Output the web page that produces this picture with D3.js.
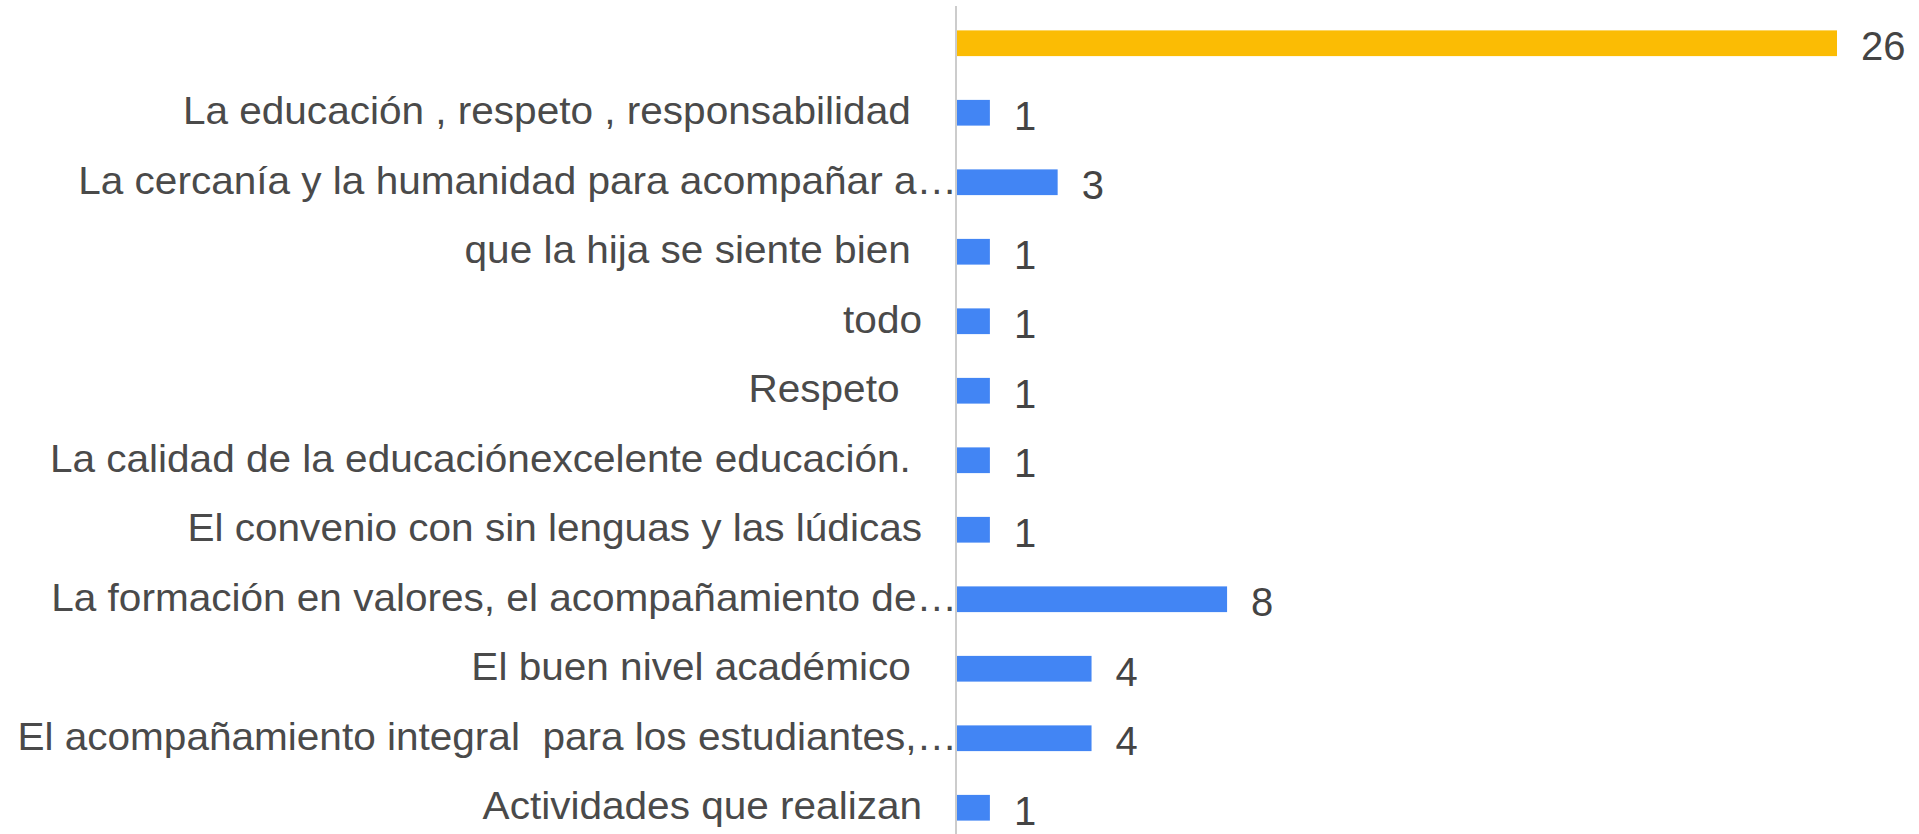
<!DOCTYPE html>
<html>
<head>
<meta charset="utf-8">
<script src="https://cdn.jsdelivr.net/npm/d3@7"></script>
<style>
  html, body { margin: 0; padding: 0; background: #fff; overflow: hidden; }
  svg { display: block; }
  text { font-family: "Liberation Sans", Arial, sans-serif; white-space: pre; }
</style>
</head>
<body>
<svg id="chart" width="1919" height="834"></svg>
<script>
// Answers (the first one is the blank answer), as shown top to bottom.
const categories = [
  '',
  'La educación , respeto , responsabilidad ',
  'La cercanía y la humanidad para acompañar a…',
  'que la hija se siente bien ',
  'todo',
  'Respeto  ',
  'La calidad de la educaciónexcelente educación. ',
  'El convenio con sin lenguas y las lúdicas',
  'La formación en valores, el acompañamiento de…',
  'El buen nivel académico ',
  'El acompañamiento integral  para los estudiantes,…',
  'Actividades que realizan'
];
const counts = [26, 1, 3, 1, 1, 1, 1, 1, 8, 4, 4, 1];
const barColors = ['#fbbc04', '#4285f4', '#4285f4', '#4285f4', '#4285f4', '#4285f4',
  '#4285f4', '#4285f4', '#4285f4', '#4285f4', '#4285f4', '#4285f4'];

const width = 1919, height = 834;
const axisX = 956;

const svg = d3.select('#chart');

const x = d3.scaleLinear()
  .domain([0, 26])
  .range([axisX, 1837]);

// The chart is cropped, so the band range runs past the bottom edge.
const y = d3.scaleBand()
  .domain(d3.range(categories.length))
  .range([8.5, 842.5])
  .paddingInner(0.63)
  .paddingOuter(0.315);

// Bars
svg.append('g')
  .selectAll('rect')
  .data(counts)
  .enter()
  .append('rect')
  .attr('x', x(0) + 1)
  .attr('y', (d, i) => y(i))
  .attr('width', d => x(d) - x(0) - 1)
  .attr('height', y.bandwidth())
  .attr('fill', (d, i) => barColors[i]);

// Value labels
svg.append('g')
  .selectAll('text')
  .data(counts)
  .enter()
  .append('text')
  .attr('x', d => x(d) + 24)
  .attr('y', (d, i) => y(i) + y.bandwidth() / 2)
  .attr('dy', '0.42em')
  .attr('font-size', 40)
  .attr('fill', '#444')
  .text(d => d);

// Category labels; truncated ones run up to the axis line.
// The source font is a little wider than Liberation Sans, hence the stretch.
svg.append('g')
  .selectAll('text')
  .data(categories)
  .enter()
  .append('text')
  .attr('transform', (d, i) => {
    const xEnd = d.endsWith('…') ? axisX + 1 : axisX - 34;
    return `translate(${xEnd},${y(i) + y.bandwidth() / 2}) scale(1.067,1)`;
  })
  .attr('dy', '0.3em')
  .attr('text-anchor', 'end')
  .attr('font-size', 38)
  .attr('fill', '#4a4a4a')
  .text(d => d);

// Vertical baseline
svg.append('line')
  .attr('x1', axisX).attr('x2', axisX)
  .attr('y1', 6).attr('y2', height)
  .attr('stroke', '#cccccc')
  .attr('stroke-width', 2);
</script>
</body>
</html>
